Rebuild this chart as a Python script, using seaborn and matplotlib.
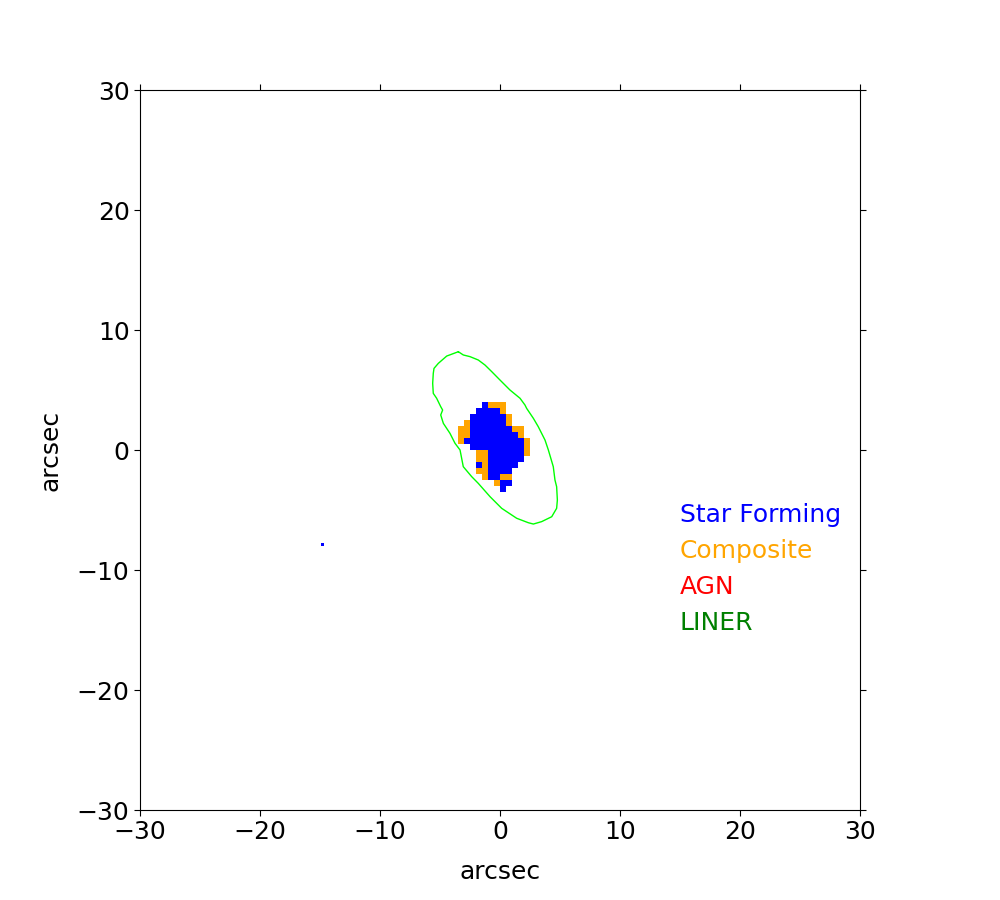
import numpy as np
import matplotlib
matplotlib.use("Agg")
import matplotlib.pyplot as plt
from matplotlib.colors import ListedColormap
import seaborn as sns

# BPT classification map, 0.5 arcsec cells, top row at y=4.0, left column at x=-3.5
# B = star forming, O = composite, R = AGN, G = LINER, . = no data
map_rows = [
    "....BOOO.....",
    "...BBBBO.....",
    "..BBBBBBO....",
    ".OBBBBBBO....",
    "OOBBBBBBBOO..",
    "OOBBBBBBBBO..",
    "OBBBBBBBBBBO.",
    "..BBBBBBBBBO.",
    "...OOBBBBBBO.",
    "...OOBBBBBB..",
    "...BOBBBBB...",
    "...OOBBBB....",
    "....OBBOO....",
    "......OBB....",
    ".......B.....",
]
map_extent = [-3.5, 3.0, -3.5, 4.0]

# isolated star forming spaxel
stray_x = [-14.8]
stray_y = [-7.9]

# outer isophote contour (arcsec)
contour_x = [-3.47, -3.06, -2.5, -1.81, -1.25, -0.69, 0.0, 0.83, 1.67, 2.08, 2.22,
             2.78, 3.19, 3.75, 4.03, 4.44, 4.58, 4.72, 4.78, 4.72, 4.31, 3.47,
             2.78, 2.36, 1.39, 0.14, -0.83, -1.81, -2.36, -3.06, -3.33, -3.75,
             -4.17, -4.72, -4.94, -4.78, -4.94, -5.28, -5.56, -5.61, -5.56, -5.5,
             -5.14, -4.44, -3.47]
contour_y = [8.19, 7.92, 7.78, 7.5, 7.08, 6.53, 5.83, 5.0, 4.31, 3.75, 3.47,
             2.64, 1.94, 0.83, 0.0, -1.39, -2.5, -3.06, -4.17, -4.86, -5.56, -5.97,
             -6.17, -6.06, -5.69, -4.86, -3.89, -2.78, -2.22, -1.39, 0.0, 0.56,
             1.39, 2.22, 2.92, 3.33, 3.61, 4.31, 4.72, 5.56, 6.39, 6.8,
             7.22, 7.83, 8.19]

class_names = ["Star Forming", "Composite", "AGN", "LINER"]
class_colors = ["blue", "orange", "red", "green"]
class_codes = {"B": 0, "O": 1, "R": 2, "G": 3}

sns.set_style("ticks", {"axes.edgecolor": "black", "xtick.color": "black",
                        "ytick.color": "black", "text.color": "black",
                        "axes.labelcolor": "black"})
plt.rcParams["font.family"] = ["DejaVu Sans"]

grid = np.full((len(map_rows), len(map_rows[0])), np.nan)
for i, row in enumerate(map_rows):
    for j, ch in enumerate(row):
        if ch in class_codes:
            grid[i, j] = class_codes[ch]
grid = np.ma.masked_invalid(grid)

fig = plt.figure(figsize=(10, 9), dpi=100)
ax = fig.add_axes([0.14, 0.1, 0.72, 0.8])

cmap = ListedColormap(class_colors)
ax.imshow(grid, cmap=cmap, vmin=-0.5, vmax=3.5, extent=map_extent,
          origin="upper", interpolation="nearest", zorder=1)

sns.scatterplot(x=stray_x, y=stray_y, marker="s", s=5, color="blue",
                edgecolor="none", ax=ax, zorder=2)
sns.lineplot(x=contour_x, y=contour_y, sort=False, estimator=None,
             color="lime", lw=1, ax=ax, zorder=3)

for k, (name, col) in enumerate(zip(class_names, class_colors)):
    ax.text(15, -6 - 3 * k, name, color=col, fontsize=18)

ax.set_xlim(-30, 30)
ax.set_ylim(-30, 30)
ax.set_aspect("equal")
ax.set_xticks(np.arange(-30, 31, 10))
ax.set_yticks(np.arange(-30, 31, 10))
ax.tick_params(top=True, right=True, direction="out", length=4, width=0.8,
               labelsize=18)
for sp in ax.spines.values():
    sp.set_linewidth(0.8)
    sp.set_visible(True)
ax.set_xlabel("arcsec", fontsize=18, labelpad=11)
ax.set_ylabel("arcsec", fontsize=18, labelpad=10)

fig.savefig("out.png", dpi=100)
